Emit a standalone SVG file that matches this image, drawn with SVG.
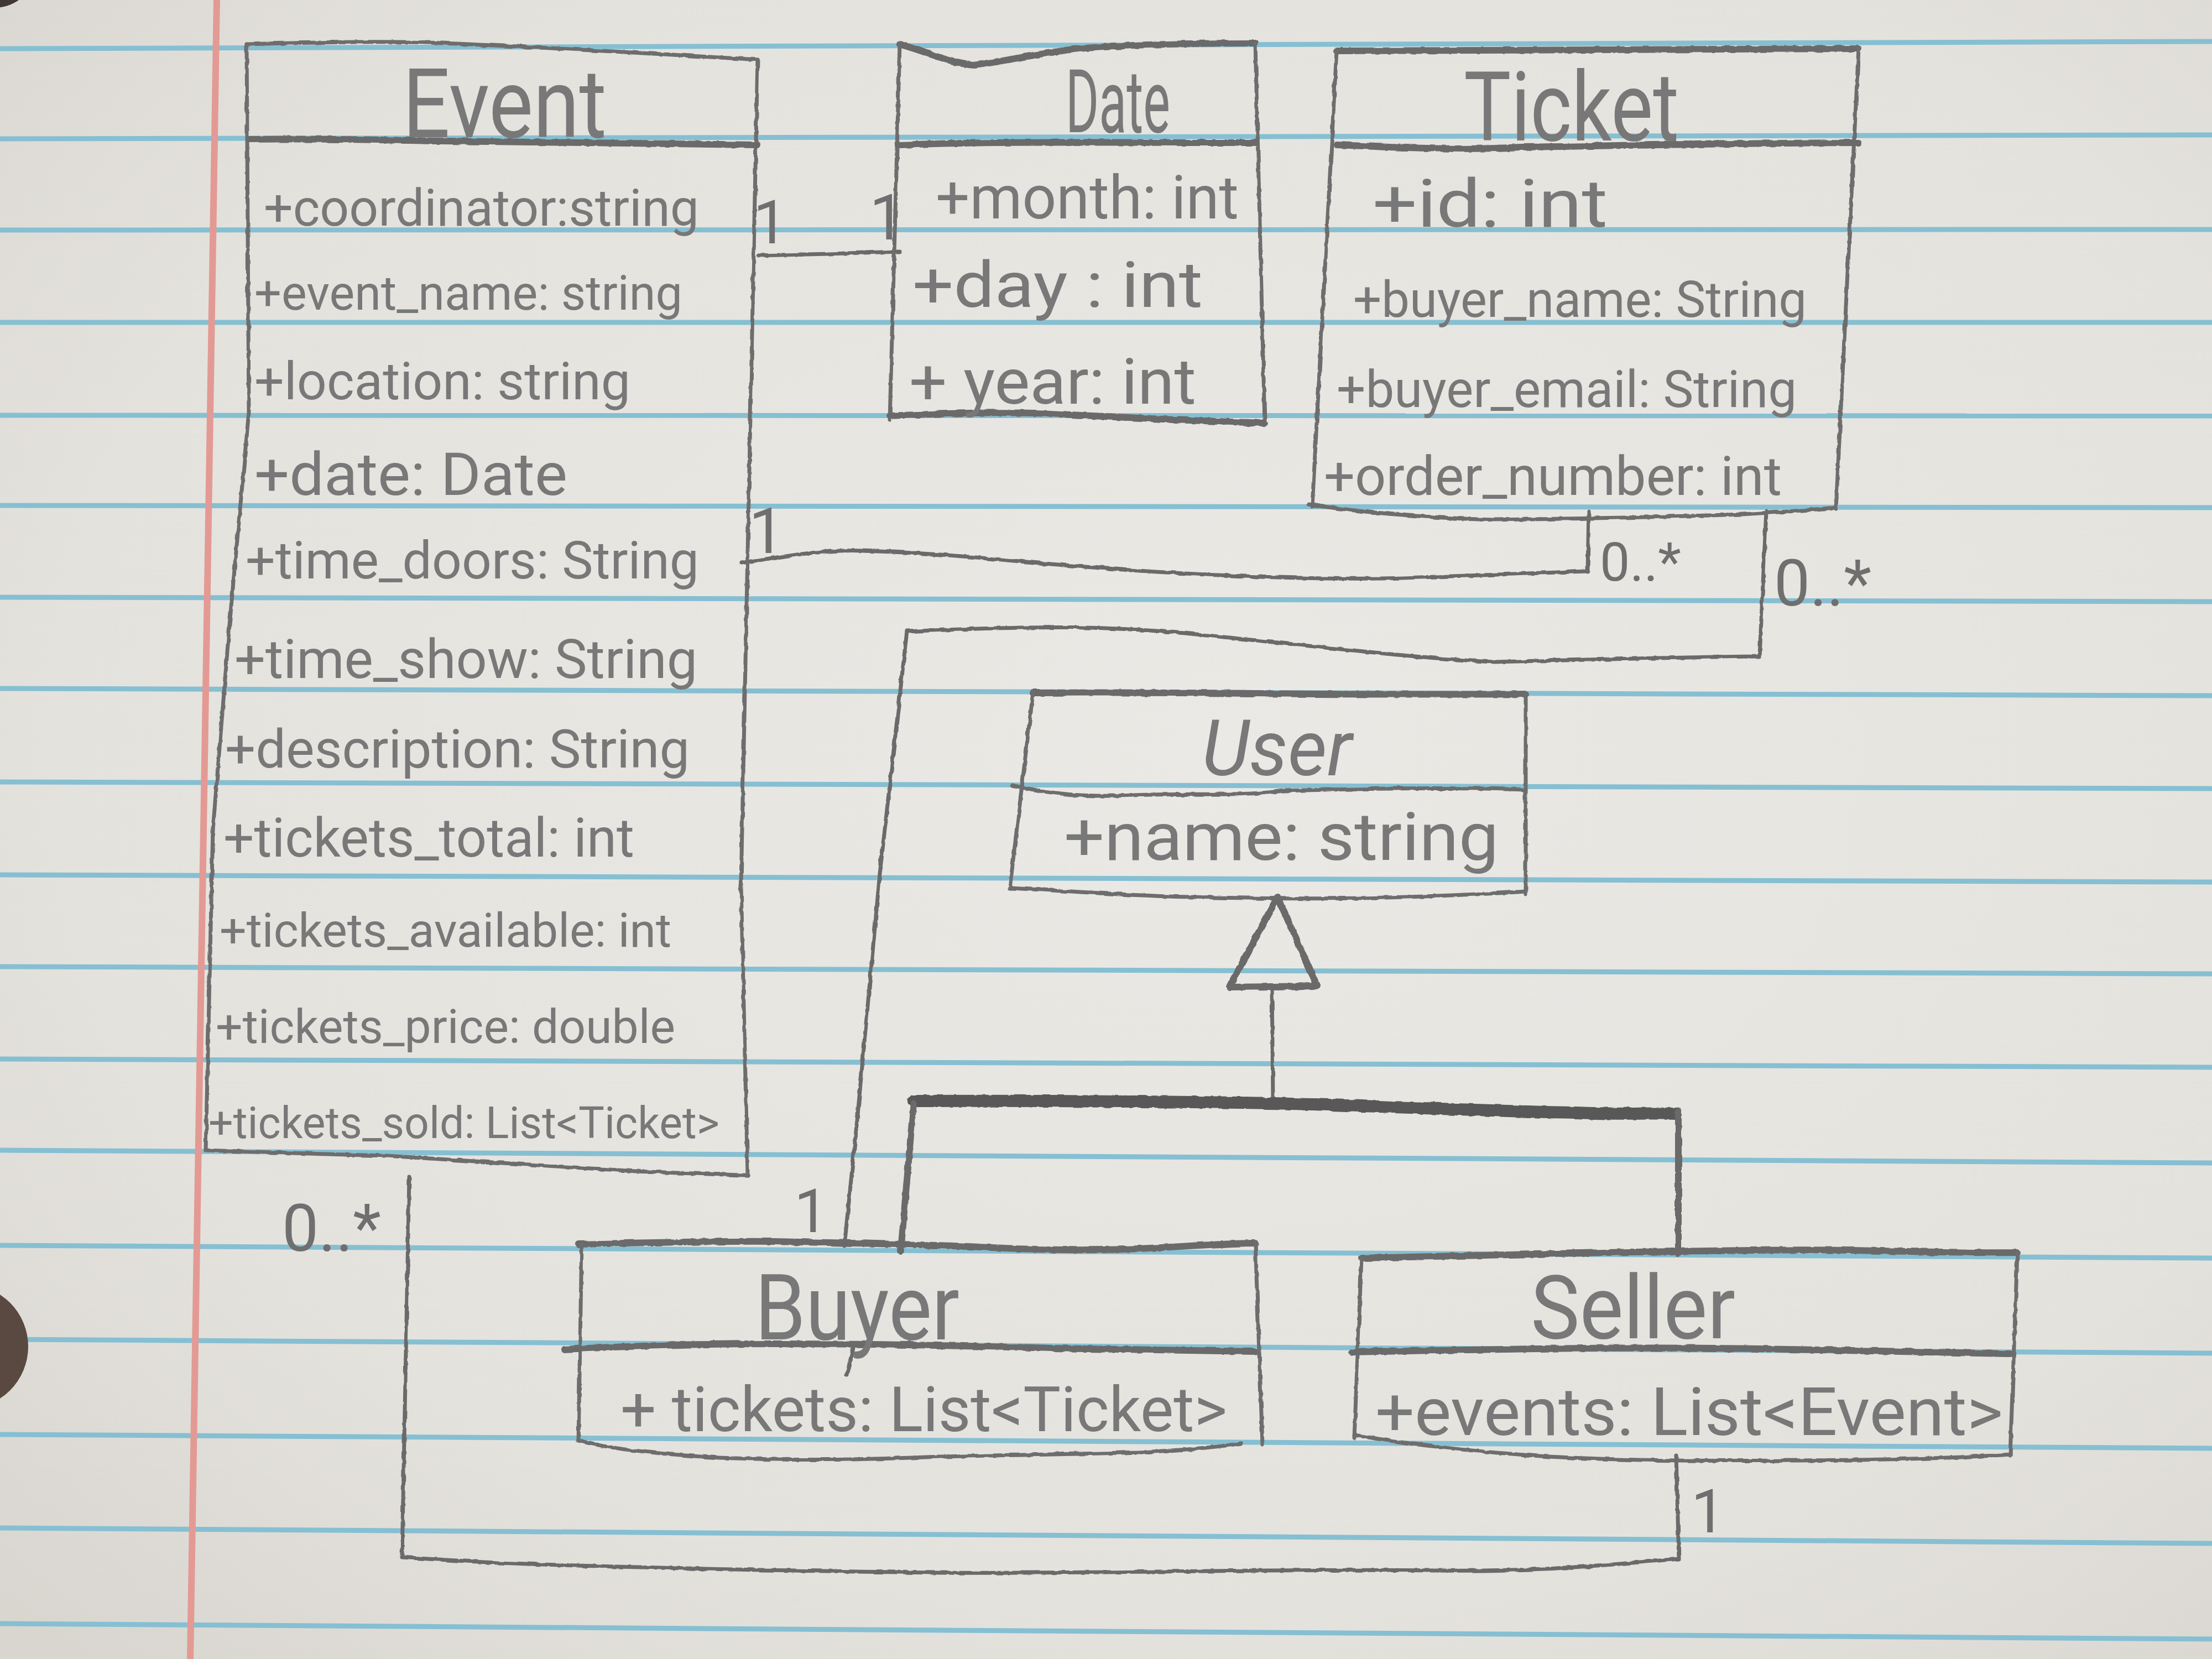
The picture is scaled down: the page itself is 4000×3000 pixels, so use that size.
<svg xmlns="http://www.w3.org/2000/svg" width="4000" height="3000" viewBox="0 0 4000 3000">
  <defs>
    <radialGradient id="paper" cx="0.55" cy="0.45" r="0.75">
      <stop offset="0" stop-color="#ebe9e5"/>
      <stop offset="0.7" stop-color="#e4e2dd"/>
      <stop offset="1" stop-color="#d9d6d0"/>
    </radialGradient>
    <filter id="pencil" x="-2%" y="-2%" width="104%" height="104%">
      <feTurbulence type="fractalNoise" baseFrequency="0.06" numOctaves="2" seed="3" result="n"/>
      <feDisplacementMap in="SourceGraphic" in2="n" scale="5" xChannelSelector="R" yChannelSelector="G"/>
    </filter>
    <style>
      .rule { stroke: #86bfd2; stroke-width: 9; fill: none; }
      .margin { stroke: #e39a94; stroke-width: 12; fill: none; }
      .edge { stroke: #6d6d6d; stroke-width: 7; fill: none; stroke-linecap: round; stroke-linejoin: round; }
      .bold { stroke: #6a6a6a; stroke-width: 12; fill: none; stroke-linecap: round; stroke-linejoin: round; }
      .wire { stroke: #6b6b6b; stroke-width: 7; fill: none; stroke-linecap: round; stroke-linejoin: round; }
      .heavy { stroke: #585858; stroke-width: 22; fill: none; stroke-linecap: round; stroke-linejoin: round; }
      text { font-family: Roboto, "Liberation Sans", sans-serif; fill: #787878; }
      .title { font-size: 175px; }
      .mult { fill: #6f6f6f; }
    </style>
  </defs>

  <!-- notebook paper -->
  <rect x="0" y="0" width="4000" height="3000" fill="url(#paper)"/>
  <g id="ruling">
    <line class="rule" x1="0" y1="88" x2="4000" y2="75"/>
    <line class="rule" x1="0" y1="251" x2="4000" y2="244"/>
    <line class="rule" x1="0" y1="416" x2="4000" y2="415"/>
    <line class="rule" x1="0" y1="583" x2="4000" y2="583"/>
    <line class="rule" x1="0" y1="751" x2="4000" y2="752"/>
    <line class="rule" x1="0" y1="914" x2="4000" y2="918"/>
    <line class="rule" x1="0" y1="1080" x2="4000" y2="1088"/>
    <line class="rule" x1="0" y1="1245" x2="4000" y2="1258"/>
    <line class="rule" x1="0" y1="1414" x2="4000" y2="1426"/>
    <line class="rule" x1="0" y1="1582" x2="4000" y2="1595"/>
    <line class="rule" x1="0" y1="1748" x2="4000" y2="1761"/>
    <line class="rule" x1="0" y1="1915" x2="4000" y2="1930"/>
    <line class="rule" x1="0" y1="2080" x2="4000" y2="2103"/>
    <line class="rule" x1="0" y1="2252" x2="4000" y2="2275"/>
    <line class="rule" x1="0" y1="2422" x2="4000" y2="2447"/>
    <line class="rule" x1="0" y1="2594" x2="4000" y2="2619"/>
    <line class="rule" x1="0" y1="2763" x2="4000" y2="2791"/>
    <line class="rule" x1="0" y1="2936" x2="4000" y2="2964"/>
    <line class="margin" x1="392" y1="0" x2="344" y2="3000"/>
  </g>
  <!-- binder holes -->
  <circle cx="-10" cy="-62" r="76" fill="#3f3833"/>
  <circle cx="-61" cy="2435" r="112" fill="#5a4940"/>

  <!-- connectors -->
  <g id="connectors" filter="url(#pencil)">
    <!-- Event 1 - 1 Date -->
    <path class="wire" d="M1372,462 L1500,459 L1627,455"/>
    <!-- Event 1 - 0..* Ticket -->
    <path class="wire" d="M1340,1018 C1420,1005 1500,993 1560,996 C1700,1000 1800,1012 1950,1024 C2150,1040 2350,1048 2500,1046 C2650,1042 2780,1036 2871,1033 L2873,925"/>
    <!-- Buyer 1 - 0..* Ticket -->
    <path class="wire" d="M3194,925 L3182,1187 C3050,1188 2900,1192 2703,1197 C2550,1190 2350,1165 2142,1145 C2000,1133 1900,1130 1640,1142 L1591,1580 L1550,2026 L1527,2252"/>
    <path class="wire" d="M1543,2438 L1531,2486"/>
    <!-- Seller 1 - 0..* Event -->
    <path class="wire" d="M3031,2632 L3036,2819 C2900,2830 2800,2842 2600,2840 C2300,2836 2000,2846 1700,2844 C1400,2840 1100,2834 900,2826 C820,2822 760,2818 727,2816 L740,2129"/>
    <!-- generalization: Buyer, Seller to User -->
    <path class="wire" d="M2300,1785 L2302,1988" stroke-width="16"/>
    <path class="bold" d="M2310,1622 L2223,1785 L2382,1783 Z" stroke-width="13"/>
    <path class="heavy" d="M1652,1991 C1900,1990 2100,1992 2300,1995 C2500,2000 2700,2010 2850,2012 C2950,2016 3000,2012 3030,2014"/>
    <path class="bold" d="M1652,1995 L1629,2262" stroke-width="15"/>
    <path class="bold" d="M3035,2010 L3035,2266" stroke-width="14"/>
  </g>

  <!-- multiplicities -->
  <g id="multiplicities">
    <text class="mult" x="1362" y="440" font-size="110">1</text>
    <text class="mult" x="1572" y="433" font-size="115">1</text>
    <text class="mult" x="1354" y="1000" font-size="115">1</text>
    <text class="mult" x="2893" y="1050" font-size="97" textLength="147" lengthAdjust="spacingAndGlyphs">0..*</text>
    <text class="mult" x="3208" y="1095" font-size="116" textLength="176" lengthAdjust="spacingAndGlyphs">0..*</text>
    <text class="mult" x="1436" y="2228" font-size="110">1</text>
    <text class="mult" x="3058" y="2771" font-size="110">1</text>
    <text class="mult" x="510" y="2262" font-size="118" textLength="179" lengthAdjust="spacingAndGlyphs">0..*</text>
  </g>

  <!-- Event class -->
  <g id="event">
    <g filter="url(#pencil)">
      <path class="edge" d="M446,80 C600,76 700,74 800,78 C1000,86 1200,98 1370,108"/>
      <path class="edge" d="M446,80 L450,745 L415,1130 L385,1500 L372,2080"/>
      <path class="edge" d="M1370,108 L1352,1000 L1340,1600 L1352,2125"/>
      <path class="edge" d="M372,2080 C500,2084 600,2088 700,2090 C850,2100 1000,2110 1150,2118 C1250,2122 1300,2124 1352,2125"/>
      <path class="bold" d="M450,252 C600,250 700,254 800,255 C1000,258 1200,260 1370,262" stroke-width="10"/>
    </g>
    <text class="title" x="728" y="248" textLength="369" lengthAdjust="spacingAndGlyphs">Event</text>
    <text x="477" y="408" font-size="93" textLength="787" lengthAdjust="spacingAndGlyphs">+coordinator:string</text>
    <text x="460" y="560" font-size="87" textLength="774" lengthAdjust="spacingAndGlyphs">+event_name: string</text>
    <text x="460" y="722" font-size="95" textLength="680" lengthAdjust="spacingAndGlyphs">+location: string</text>
    <text x="460" y="895" font-size="107" textLength="566" lengthAdjust="spacingAndGlyphs">+date:  Date</text>
    <text x="444" y="1046" font-size="95" textLength="820" lengthAdjust="spacingAndGlyphs">+time_doors: String</text>
    <text x="424" y="1226" font-size="99" textLength="837" lengthAdjust="spacingAndGlyphs">+time_show: String</text>
    <text x="407" y="1388" font-size="97" textLength="840" lengthAdjust="spacingAndGlyphs">+description: String</text>
    <text x="404" y="1549" font-size="98" textLength="743" lengthAdjust="spacingAndGlyphs">+tickets_total: int</text>
    <text x="397" y="1712" font-size="86" textLength="817" lengthAdjust="spacingAndGlyphs">+tickets_available: int</text>
    <text x="390" y="1886" font-size="86" textLength="831" lengthAdjust="spacingAndGlyphs">+tickets_price: double</text>
    <text x="377" y="2058" font-size="79" textLength="924" lengthAdjust="spacingAndGlyphs">+tickets_sold: List&lt;Ticket&gt;</text>
  </g>

  <!-- Date class -->
  <g id="date">
    <g filter="url(#pencil)">
      <path class="bold" d="M1627,80 C1680,95 1720,115 1762,118 C1820,110 1880,96 1950,88 C2050,80 2150,78 2270,78" stroke-width="9"/>
      <path class="edge" d="M1627,80 L1609,760"/>
      <path class="edge" d="M2270,78 L2287,765"/>
      <path class="bold" d="M1627,262 C1800,255 2000,258 2270,258"/>
      <path class="bold" d="M1609,752 C1700,748 1800,744 1900,748 C2050,756 2180,762 2287,765" stroke-width="9"/>
    </g>
    <text class="title" x="1927" y="239" textLength="189" lengthAdjust="spacingAndGlyphs" style="font-size:160px">Date</text>
    <text x="1692" y="395" font-size="109" textLength="548" lengthAdjust="spacingAndGlyphs">+month: int</text>
    <text x="1650" y="555" font-size="115" textLength="525" lengthAdjust="spacingAndGlyphs">+day : int</text>
    <text x="1644" y="730" font-size="115" textLength="519" lengthAdjust="spacingAndGlyphs">+ year: int</text>
  </g>

  <!-- Ticket class -->
  <g id="ticket">
    <g filter="url(#pencil)">
      <path class="bold" d="M2417,92 C2700,88 3000,90 3361,88"/>
      <path class="edge" d="M2417,92 L2373,915"/>
      <path class="edge" d="M3361,88 L3320,920"/>
      <path class="bold" d="M2417,262 C2550,268 2650,272 2750,266 C3000,262 3200,258 3361,258"/>
      <path class="edge" d="M2366,912 C2450,925 2550,935 2700,940 C2850,938 3000,935 3150,930 C3250,925 3290,920 3320,918"/>
    </g>
    <text class="title" x="2647" y="254" textLength="389" lengthAdjust="spacingAndGlyphs">Ticket</text>
    <text x="2482" y="410" font-size="120" textLength="425" lengthAdjust="spacingAndGlyphs">+id: int</text>
    <text x="2447" y="573" font-size="90" textLength="820" lengthAdjust="spacingAndGlyphs">+buyer_name: String</text>
    <text x="2417" y="736" font-size="92" textLength="832" lengthAdjust="spacingAndGlyphs">+buyer_email: String</text>
    <text x="2394" y="895" font-size="98" textLength="828" lengthAdjust="spacingAndGlyphs">+order_number: int</text>
  </g>

  <!-- User class (abstract) -->
  <g id="user">
    <g filter="url(#pencil)">
      <path class="bold" d="M1868,1253 C2100,1250 2400,1258 2759,1255" stroke-width="10"/>
      <path class="edge" d="M1868,1253 L1826,1606"/>
      <path class="edge" d="M2759,1255 L2759,1617"/>
      <path class="edge" d="M1830,1420 C1900,1436 1960,1442 2050,1438 C2150,1434 2250,1440 2320,1430 C2500,1425 2650,1424 2759,1428" stroke-width="9"/>
      <path class="edge" d="M1826,1606 C1950,1612 2050,1620 2150,1622 C2300,1626 2450,1626 2600,1620 C2700,1616 2730,1614 2759,1612" stroke-width="9"/>
    </g>
    <text class="title" x="2173" y="1402" textLength="272" lengthAdjust="spacingAndGlyphs" style="font-size:140px;font-style:italic">User</text>
    <text x="1924" y="1555" font-size="120" textLength="786" lengthAdjust="spacingAndGlyphs">+name: string</text>
  </g>

  <!-- Buyer class -->
  <g id="buyer">
    <g filter="url(#pencil)">
      <path class="bold" d="M1046,2250 C1200,2246 1300,2244 1400,2245 C1550,2248 1650,2250 1750,2254 C1900,2262 2000,2262 2100,2256 C2200,2250 2240,2248 2270,2248"/>
      <path class="edge" d="M1052,2250 L1046,2605"/>
      <path class="edge" d="M2270,2248 L2283,2612"/>
      <path class="bold" d="M1020,2440 C1150,2434 1250,2430 1400,2430 C1600,2430 1750,2434 1900,2438 C2100,2442 2200,2444 2270,2444" stroke-width="14"/>
      <path class="edge" d="M1046,2605 C1100,2620 1200,2630 1300,2636 C1450,2642 1550,2640 1700,2634 C1850,2630 2000,2630 2100,2624 C2200,2618 2230,2612 2245,2610"/>
    </g>
    <text class="title" x="1365" y="2422" textLength="370" lengthAdjust="spacingAndGlyphs" style="font-size:165px">Buyer</text>
    <text x="1122" y="2588" font-size="114" textLength="1097" lengthAdjust="spacingAndGlyphs">+ tickets: List&lt;Ticket&gt;</text>
  </g>

  <!-- Seller class -->
  <g id="seller">
    <g filter="url(#pencil)">
      <path class="bold" d="M2462,2275 C2650,2272 2800,2268 2950,2264 C3100,2262 3250,2258 3400,2262 C3500,2264 3600,2266 3648,2265"/>
      <path class="edge" d="M2462,2275 L2449,2600"/>
      <path class="edge" d="M3648,2265 L3635,2632"/>
      <path class="bold" d="M2444,2445 C2700,2440 2900,2436 3100,2438 C3300,2440 3500,2446 3635,2448" stroke-width="14"/>
      <path class="edge" d="M2449,2595 C2550,2612 2650,2624 2800,2634 C2950,2642 3100,2642 3250,2641 C3400,2640 3550,2636 3635,2630" stroke-width="9"/>
    </g>
    <text class="title" x="2768" y="2420" textLength="370" lengthAdjust="spacingAndGlyphs" style="font-size:160px">Seller</text>
    <text x="2487" y="2595" font-size="120" textLength="1135" lengthAdjust="spacingAndGlyphs">+events: List&lt;Event&gt;</text>
  </g>
</svg>
